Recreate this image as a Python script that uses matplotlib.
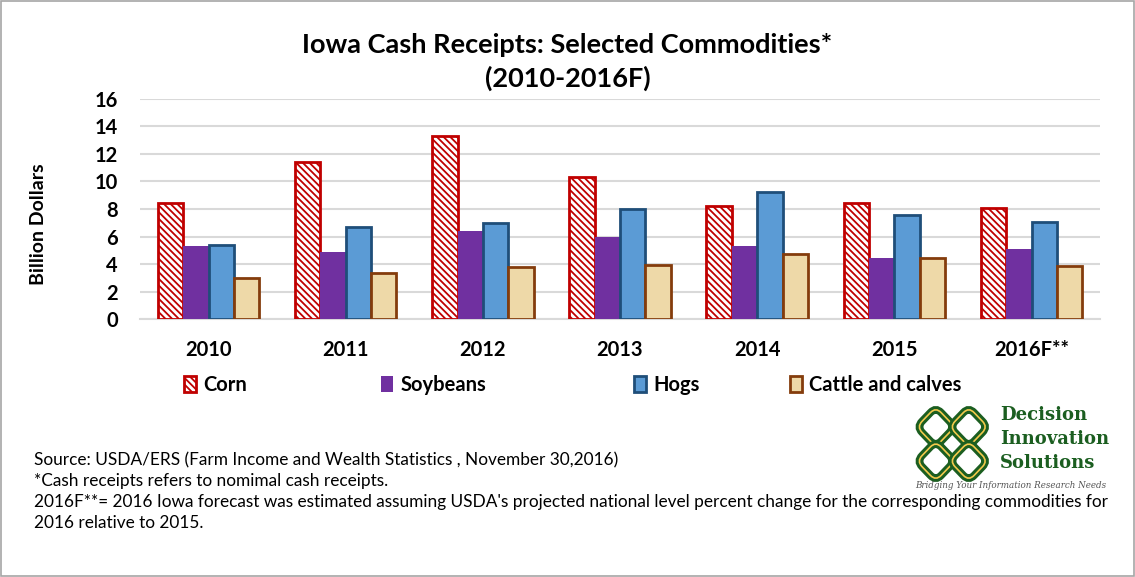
import matplotlib
matplotlib.use('Agg')
import matplotlib.pyplot as plt
import numpy as np
from matplotlib.patches import Rectangle, FancyBboxPatch
from matplotlib.transforms import Affine2D

plt.rcParams['font.family'] = ['Lato', 'DejaVu Sans']
plt.rcParams['hatch.linewidth'] = 1.3

years = ['2010', '2011', '2012', '2013', '2014', '2015', '2016F**']
corn = [8.4, 11.45, 13.3, 10.3, 8.2, 8.4, 8.05]
soybeans = [5.3, 4.9, 6.4, 6.0, 5.3, 4.45, 5.1]
hogs = [5.35, 6.7, 7.0, 8.0, 9.2, 7.55, 7.05]
cattle = [3.0, 3.35, 3.8, 3.9, 4.75, 4.45, 3.85]

fig = plt.figure(figsize=(11.35, 5.77), dpi=100)
fig.patches.append(Rectangle((0.001, 0.002), 0.998, 0.996, transform=fig.transFigure,
                             fill=False, edgecolor='#A6A6A6', lw=1.2))

ax = fig.add_axes([0.1233, 0.447, 0.846, 0.3816])
x = np.arange(len(years))
w = 0.185
b1 = ax.bar(x - 1.5 * w, corn, w, facecolor='white', edgecolor='#C00000', hatch='\\\\\\\\\\', lw=2, zorder=3)
b2 = ax.bar(x - 0.5 * w, soybeans, w, color='#7030A0', zorder=3)
b3 = ax.bar(x + 0.5 * w, hogs, w, facecolor='#5B9BD5', edgecolor='#1F4E79', lw=2, zorder=3)
b4 = ax.bar(x + 1.5 * w, cattle, w, facecolor='#EED9A8', edgecolor='#843C0C', lw=2, zorder=3)

ax.set_xlim(-0.5, 6.5)
ax.set_ylim(0, 16)
ax.set_yticks(range(0, 17, 2))
ax.set_xticks(x)
ax.set_xticklabels(years)
ax.grid(axis='y', color='#D9D9D9', lw=1.5, zorder=0)
for s in ['top', 'right', 'left']:
    ax.spines[s].set_visible(False)
ax.spines['bottom'].set_color('#D9D9D9')
ax.spines['bottom'].set_linewidth(1.5)
ax.tick_params(length=0, labelsize=14.5)
ax.tick_params(axis='y', pad=16)
ax.tick_params(axis='x', pad=15)
for lab in ax.get_xticklabels() + ax.get_yticklabels():
    lab.set_fontweight('bold')
ax.set_ylabel('Billion Dollars', fontsize=14, fontweight='bold')
ax.yaxis.set_label_coords(-0.097, 0.43)

fig.text(0.5, 0.922, 'Iowa Cash Receipts: Selected Commodities*', ha='center', va='center',
         fontsize=19.5, fontweight='bold')
fig.text(0.5, 0.865, '(2010-2016F)', ha='center', va='center', fontsize=19.5, fontweight='bold')

# legend entries placed one by one, like the uneven spacing of the original
leg_items = [(b1, 'Corn', 184), (b2, 'Soybeans', 381), (b3, 'Hogs', 634), (b4, 'Cattle and calves', 790)]
for h, name, px in leg_items:
    leg = fig.legend([h], [name], loc='center left', bbox_to_anchor=(px / 1135, 1 - 385 / 577),
                     frameon=False, fontsize=14.5, handlelength=0.6, handleheight=0.8,
                     handletextpad=0.35, borderpad=0, borderaxespad=0)
    for t in leg.get_texts():
        t.set_fontweight('bold')

notes = ["Source: USDA/ERS (Farm Income and Wealth Statistics , November 30,2016)",
         "*Cash receipts refers to nomimal cash receipts.",
         "2016F**= 2016 Iowa forecast was estimated assuming USDA's projected national level percent change for the corresponding commodities for",
         "2016 relative to 2015."]
for i, n in enumerate(notes):
    fig.text(0.03, 1 - (460 + 21 * i) / 577, n, fontsize=12.4, va='center')

# logo
lax = fig.add_axes([0.806, 0.163, 0.066, 0.135])
lax.set_xlim(0, 1)
lax.set_ylim(0, 1)
lax.axis('off')
green = '#1B5E20'
for cx, cy in [(0.28, 0.72), (0.72, 0.72), (0.28, 0.28), (0.72, 0.28)]:
    tr = Affine2D().rotate_deg_around(cx, cy, 45) + lax.transData
    lax.add_patch(FancyBboxPatch((cx - 0.16, cy - 0.16), 0.32, 0.32,
                                 boxstyle='round,pad=0.02,rounding_size=0.1',
                                 fill=False, edgecolor=green, lw=5.5, transform=tr))
    lax.add_patch(FancyBboxPatch((cx - 0.16, cy - 0.16), 0.32, 0.32,
                                 boxstyle='round,pad=0.02,rounding_size=0.1',
                                 fill=False, edgecolor='#F2C94C', lw=1.2, transform=tr))

for i, word in enumerate(['Decision', 'Innovation', 'Solutions']):
    fig.text(1000 / 1135, 1 - (415 + 24 * i) / 577, word, fontsize=13, fontweight='bold',
             family='DejaVu Serif', color=green, va='center')
fig.text(915 / 1135, 1 - 486 / 577, 'Bridging Your Information Research Needs', fontsize=6.3,
         style='italic', family='DejaVu Serif', color='#555555', va='center')

fig.savefig('out.png', dpi=100)
